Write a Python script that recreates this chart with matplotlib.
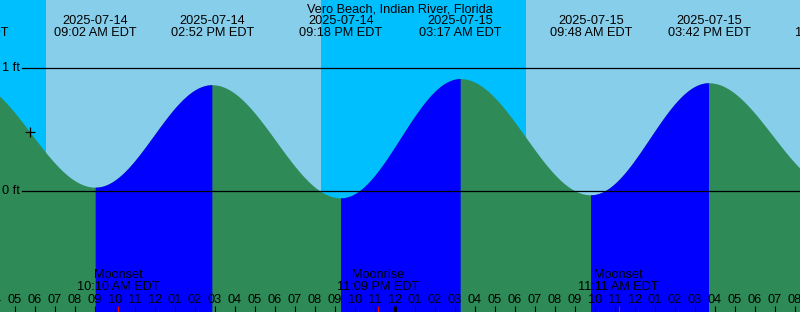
import matplotlib
matplotlib.use("Agg")
import matplotlib.pyplot as plt
import numpy as np
import pandas as pd

# Datos de la gráfica de mareas
station = "Vero Beach, Indian River, Florida"
tide_times = ["2025-07-14 02:37", "2025-07-14 09:02", "2025-07-14 14:52",
              "2025-07-14 21:18", "2025-07-15 03:17", "2025-07-15 09:48",
              "2025-07-15 15:42", "2025-07-15 22:06"]
tide_heights = [0.90, 0.027, 0.86, -0.06, 0.91, -0.035, 0.876, 0.02]
sun_times = ["2025-07-14 06:32", "2025-07-14 20:18", "2025-07-15 06:33", "2025-07-15 20:19"]
sun_kind = ["rise", "set", "rise", "set"]
moon_times = ["2025-07-14 10:10", "2025-07-14 23:09", "2025-07-15 11:11"]
moon_kind = ["Moonset", "Moonrise", "Moonset"]
now_time = "2025-07-14 05:45"
level_marks = [0, 1]

T0 = pd.Timestamp("2025-07-14 00:00")


def horas(ts):
    return (pd.Timestamp(ts) - T0).total_seconds() / 3600.0


def curva(t, tt, hh):
    # interpolación coseno entre pleamar y bajamar
    out = np.empty_like(t)
    for i in range(len(tt) - 1):
        m = (t >= tt[i]) & (t <= tt[i + 1])
        f = (t[m] - tt[i]) / (tt[i + 1] - tt[i])
        out[m] = hh[i + 1] + (hh[i] - hh[i + 1]) * (1 + np.cos(np.pi * f)) / 2
    return out


W, H = 800, 312
t_min, t_max = 4.25, 44.25
y_min, y_max = -0.984, 1.553

fig = plt.figure(figsize=(W / 100, H / 100), dpi=100)
ax = fig.add_axes([0, 0, 1, 1])
ax.set_xlim(t_min, t_max)
ax.set_ylim(y_min, y_max)
ax.axis("off")
plt.rcParams["font.family"] = ["Liberation Sans", "DejaVu Sans"]
FS = 9.2

xy = ax.get_xaxis_transform()


def fy(px):
    return 1 - px / H


# cielo: día / noche
ax.add_patch(plt.Rectangle((0, 0), 1, 1, transform=ax.transAxes, color="#87CEEB", zorder=0))
st = [horas(s) for s in sun_times]
edges = [t_min - 1] + st + [t_max + 1]
kinds = ["night"] + ["day" if k == "rise" else "night" for k in sun_kind]
for a, b, k in zip(edges[:-1], edges[1:], kinds):
    if k == "night":
        ax.axvspan(a, b, color="#00BFFF", lw=0, zorder=1)

# agua
tt = np.array([horas(s) for s in tide_times])
hh = np.array(tide_heights)
t = np.linspace(t_min, t_max, 3000)
h = curva(t, tt, hh)
ax.fill_between(t, y_min - 1, h, color="#2E8B57", lw=0, zorder=2)
for i in range(len(tt) - 1):
    if hh[i + 1] > hh[i]:
        ts = np.linspace(tt[i], tt[i + 1], 600)
        ax.fill_between(ts, y_min - 1, curva(ts, tt, hh), color="#0000FF", lw=0, zorder=3)

# líneas de nivel
for lv in level_marks:
    ax.axhline(lv, xmin=22 / W, xmax=1, color="black", lw=0.9, zorder=5)
    ax.text(20 / W, lv, f"{lv} ft", transform=ax.get_yaxis_transform(), ha="right",
            va="center", fontsize=FS, zorder=6)

# marca de "ahora"
tn = horas(now_time)
ax.plot([tn], curva(np.array([tn]), tt, hh), "+", color="black", ms=7, mew=0.9, zorder=6)

# título y etiquetas de mareas
ax.text(24.25, fy(12), station, transform=xy, ha="center", va="baseline", fontsize=FS, zorder=7)
for s in tide_times:
    ts = pd.Timestamp(s)
    x = horas(s)
    ax.text(x, fy(24), ts.strftime("%Y-%m-%d"), transform=xy, ha="center", va="baseline",
            fontsize=FS, zorder=7)
    ax.text(x, fy(36), ts.strftime("%I:%M %p EDT"), transform=xy, ha="center", va="baseline",
            fontsize=FS, zorder=7)

# eventos lunares
for s, k in zip(moon_times, moon_kind):
    ts = pd.Timestamp(s)
    x = horas(s)
    ax.text(x, fy(278), k, transform=xy, ha="center", va="baseline", fontsize=FS, zorder=7)
    ax.text(x, fy(290), ts.strftime("%I:%M %p EDT"), transform=xy, ha="center",
            va="baseline", fontsize=FS, zorder=7)
    ax.vlines(x, 0, fy(306), transform=xy, color="red", lw=0.8, zorder=8)

# marcas horarias
for hr in range(4, 45):
    lab = f"{(hr % 12) or 12:02d}"
    ax.text(hr, fy(303), lab, transform=xy, ha="center", va="baseline", fontsize=FS, zorder=7)
    lw = 2.0 if hr % 24 == 0 else 0.8
    ax.vlines(hr, 0, fy(306), transform=xy, color="black", lw=lw, zorder=8)

fig.savefig("out.png", dpi=100)
